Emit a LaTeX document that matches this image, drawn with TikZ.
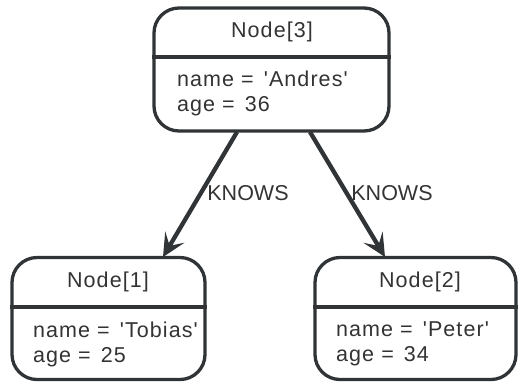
\documentclass[tikz,border=0pt]{standalone}
\usepackage{fontspec}
\setmainfont{Liberation Sans}
\newfontfamily\boxfont[LetterSpace=5]{Liberation Sans}
\usetikzlibrary{arrows.meta}
\definecolor{ink}{HTML}{303436}
\definecolor{txt}{HTML}{333333}
\newcommand{\eqgap}{=\hspace{3pt} }
\tikzset{
  box/.style={draw=ink, line width=3.3pt, rounded corners=25pt, inner sep=0pt},
  divider/.style={draw=ink, line width=3.3pt},
  head/.style={text=txt, font=\boxfont\fontsize{21.5pt}{24pt}\selectfont, inner sep=0pt},
  body/.style={text=txt, font=\boxfont\fontsize{21.5pt}{25pt}\selectfont, inner sep=0pt, anchor=west, align=left},
  rel/.style={draw=ink, line width=4.3pt, -{Stealth[length=23pt,width=22pt,inset=10pt]}},
  rellabel/.style={text=txt, font=\fontsize{21.5pt}{24pt}\selectfont, inner sep=0pt}
}
\begin{document}
\begin{tikzpicture}[x=1pt,y=-1pt]
\useasboundingbox (0,0) rectangle (518,381);
% boxes
\node[box, minimum width=235pt, minimum height=123pt] (n3) at (271.5,69.5) {};
\node[box, minimum width=193pt, minimum height=122pt] (n1) at (108.5,318.5) {};
\node[box, minimum width=201pt, minimum height=122pt] (n2) at (415.5,318.5) {};
% dividers
\draw[divider] (n3.west |- 0,57) -- (n3.east |- 0,57);
\draw[divider] (n1.west |- 0,307) -- (n1.east |- 0,307);
\draw[divider] (n2.west |- 0,307) -- (n2.east |- 0,307);
% headers
\node[head] (h3) at (272,32) {Node[3]};
\node[head] (h1) at (108,282) {Node[1]};
\node[head] (h2) at (420,282) {Node[2]};
% bodies
\node[body] (b3) at (177,93) {name \eqgap'Andres'\\age \eqgap36};
\node[body] (b1) at (33,344) {name \eqgap'Tobias'\\age \eqgap25};
\node[body] (b2) at (336,344) {name \eqgap'Peter'\\age \eqgap34};
% connector endpoints
\coordinate (s31) at (237,132);
\coordinate (t31) at (163,257);
\coordinate (s32) at (310,132);
\coordinate (t32) at (385,257);
\draw[rel] (s31) -- (t31);
\draw[rel] (s32) -- (t32);
\node[rellabel] (l1) at (248,193) {KNOWS};
\node[rellabel] (l2) at (392,193) {KNOWS};
\end{tikzpicture}
\end{document}
